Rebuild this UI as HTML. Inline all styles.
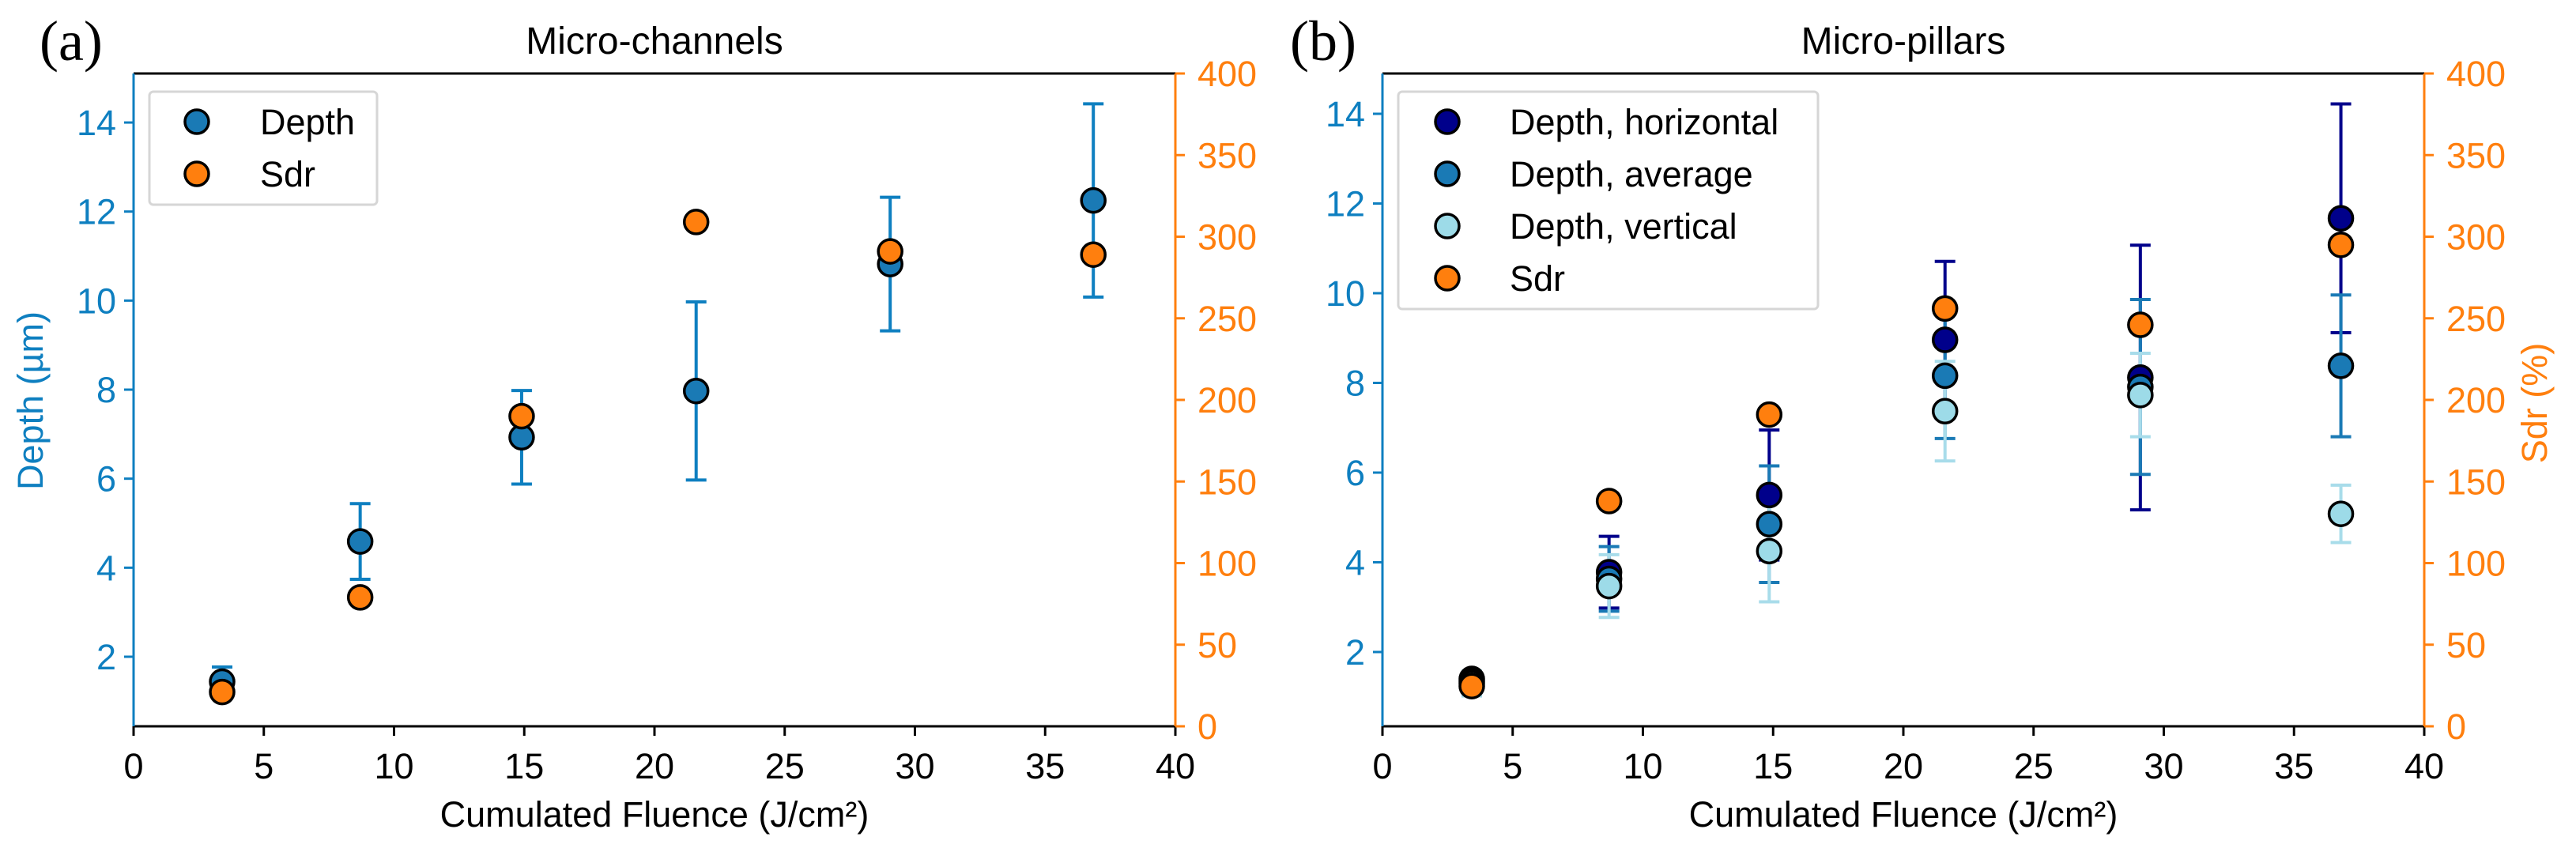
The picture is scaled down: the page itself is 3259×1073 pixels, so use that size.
<!DOCTYPE html>
<html><head><meta charset="utf-8"><style>
html,body{margin:0;padding:0;background:#fff;}
svg{display:block;font-family:"Liberation Sans","DejaVu Sans",sans-serif;}
</style></head><body>
<svg id="chart" width="3259" height="1073" viewBox="0 0 3259 1073" xmlns="http://www.w3.org/2000/svg"></svg>
<script>
// ---- Panel (a) data ----
const fluenceA = [3.4, 8.7, 14.9, 21.6, 29.05, 36.85];
const depthA = [1.44, 4.59, 6.93, 7.97, 10.82, 12.25];
const depthAErr = [0.33, 0.85, 1.05, 2.0, 1.5, 2.17];
const sdrA = [21, 79, 190, 309, 291, 289];
// ---- Panel (b) data ----
const fluenceB = [3.43, 8.7, 14.85, 21.6, 29.1, 36.8];
const depthH = [1.40, 3.78, 5.50, 8.96, 8.12, 11.67];
const depthHErr = [0.15, 0.8, 1.45, 1.75, 2.95, 2.55];
const depthAvg = [1.35, 3.63, 4.85, 8.16, 7.91, 8.38];
const depthAvgErr = [0.15, 0.72, 1.3, 1.4, 1.95, 1.58];
const depthV = [1.30, 3.47, 4.25, 7.37, 7.73, 5.08];
const depthVErr = [0.28, 0.7, 1.13, 1.11, 0.93, 0.64];
const sdrB = [24.6, 138, 191, 256, 246, 295];
const xTicks = [0, 5, 10, 15, 20, 25, 30, 35, 40];
const depthTicks = [2, 4, 6, 8, 10, 12, 14];
const sdrTicks = [0, 50, 100, 150, 200, 250, 300, 350, 400];

const NS = "http://www.w3.org/2000/svg";
const svg = document.getElementById("chart");
const BLUE = "#0e7fc0", ORANGE = "#ff7f0e", NAVY = "#00008b", AVG = "#1a7ab5", LIGHT = "#9ddbe8", LIGHTERR = "#a8dcea";
const TOP = 93, BOT = 919;

function el(tag, attrs, parent) {
  const e = document.createElementNS(NS, tag);
  for (const k in attrs) e.setAttribute(k, attrs[k]);
  (parent || svg).appendChild(e);
  return e;
}
function txt(s, attrs, parent) { const t = el("text", attrs, parent); t.textContent = s; return t; }

function panel(opt) {
  const g = el("g", {});
  
  
  const L = opt.left, R = opt.left + 1318;
  const xs = v => L + v * (R - L) / 40;
  const yd = v => opt.y2px - (v - 2) * opt.dpu;
  const ys = v => BOT - v * (BOT - TOP) / 400;
  const topL = el("line", {x1: L, y1: TOP, x2: R, y2: TOP, stroke: "#000", "stroke-width": 3}, g);
   
  const botL = el("line", {x1: L, y1: BOT, x2: R, y2: BOT, stroke: "#000", "stroke-width": 3}, g);
   
  const lAx = el("line", {x1: L, y1: TOP, x2: L, y2: BOT, stroke: BLUE, "stroke-width": 3}, g);
   
  const rAx = el("line", {x1: R, y1: TOP, x2: R, y2: BOT, stroke: ORANGE, "stroke-width": 3}, g);
   
  xTicks.forEach(v => {
    el("line", {x1: xs(v), y1: BOT, x2: xs(v), y2: BOT + 12, stroke: "#000", "stroke-width": 3}, g);
    const t = txt(String(v), {x: xs(v), y: 985, "font-size": 45, "text-anchor": "middle", fill: "#000"}, g);
     
  });
  depthTicks.forEach(v => {
    el("line", {x1: L - 12, y1: yd(v), x2: L, y2: yd(v), stroke: BLUE, "stroke-width": 3}, g);
    const t = txt(String(v), {x: L - 22, y: yd(v) + 16, "font-size": 45, "text-anchor": "end", fill: BLUE}, g);
     
  });
  sdrTicks.forEach(v => {
    el("line", {x1: R, y1: ys(v), x2: R + 12, y2: ys(v), stroke: ORANGE, "stroke-width": 3}, g);
    const t = txt(String(v), {x: R + 28, y: ys(v) + 16, "font-size": 45, "text-anchor": "start", fill: ORANGE}, g);
     
  });
  const xl = txt("Cumulated Fluence (J/cm²)", {x: (L + R) / 2, y: 1046, "font-size": 45, "text-anchor": "middle"}, g);
   
  const ti = txt(opt.title, {x: (L + R) / 2, y: 68, "font-size": 48, "text-anchor": "middle"}, g);
   
  const lb = txt(opt.label, {x: opt.labelX, y: 76, "font-size": 72, "font-family": "Liberation Serif, serif"}, g);
   
  return {g, xs, yd, ys, L, R};
}

function errbars(p, xv, yv, ev, color, name) {
  xv.forEach((x, i) => {
    const X = p.xs(x), y1 = p.yd(yv[i] + ev[i]), y2 = p.yd(yv[i] - ev[i]);
    const e = el("path", {d: `M${X},${y1}V${y2}M${X-13},${y1}H${X+13}M${X-13},${y2}H${X+13}`, stroke: color, "stroke-width": 4, fill: "none"}, p.g);
     
  });
}
function dots(p, xv, yv, color, name, sdr) {
  xv.forEach((x, i) => {
    const c = el("circle", {cx: p.xs(x), cy: sdr ? p.ys(yv[i]) : p.yd(yv[i]), r: 15, fill: color, stroke: "#000", "stroke-width": 3.5}, p.g);
     
  });
}
function legend(p, x, y, w, h, mx, tx, rows) {
  const b = el("rect", {x, y, width: w, height: h, rx: 5, fill: "#fff", stroke: "#d6d6d6", "stroke-width": 3}, p.g);
   
  rows.forEach((r, i) => {
    const cy = y + 38 + i * 66;
    const c = el("circle", {cx: mx, cy, r: 15, fill: r[1], stroke: "#000", "stroke-width": 3.5}, p.g);
     
    const t = txt(r[0], {x: tx, y: cy + 16, "font-size": 45}, p.g);
     
  });
}

// Panel a
const pa = panel({name: "panel-micro-channels", left: 169, y2px: 831, dpu: 56.33, title: "Micro-channels", label: "(a)", labelX: 50});
errbars(pa, fluenceA, depthA, depthAErr, BLUE, "depth-error-bar");
dots(pa, fluenceA, depthA, AVG, "depth-point", false);
dots(pa, fluenceA, sdrA, ORANGE, "sdr-point", true);
legend(pa, 189, 116, 288, 143, 249, 329, [["Depth", AVG], ["Sdr", ORANGE]]);
const yla = txt("Depth (µm)", {x: 0, y: 0, "font-size": 45, fill: BLUE, "text-anchor": "middle", transform: "translate(54,507) rotate(-90)"}, pa.g);
 

// Panel b
const pb = panel({name: "panel-micro-pillars", left: 1749, y2px: 825, dpu: 56.75, title: "Micro-pillars", label: "(b)", labelX: 1632});
errbars(pb, fluenceB, depthH, depthHErr, NAVY, "depth-horizontal-error-bar");
errbars(pb, fluenceB, depthAvg, depthAvgErr, AVG, "depth-average-error-bar");
errbars(pb, fluenceB, depthV, depthVErr, LIGHTERR, "depth-vertical-error-bar");
dots(pb, fluenceB, depthH, NAVY, "depth-horizontal-point", false);
dots(pb, fluenceB, depthAvg, AVG, "depth-average-point", false);
dots(pb, fluenceB, depthV, LIGHT, "depth-vertical-point", false);
dots(pb, fluenceB, sdrB, ORANGE, "sdr-point", true);
legend(pb, 1769, 116, 531, 275, 1831, 1910, [["Depth, horizontal", NAVY], ["Depth, average", AVG], ["Depth, vertical", LIGHT], ["Sdr", ORANGE]]);
const ylb = txt("Sdr (%)", {x: 0, y: 0, "font-size": 45, fill: ORANGE, "text-anchor": "middle", transform: "translate(3222,510) rotate(-90)"}, pb.g);
 
</script>
</body></html>
